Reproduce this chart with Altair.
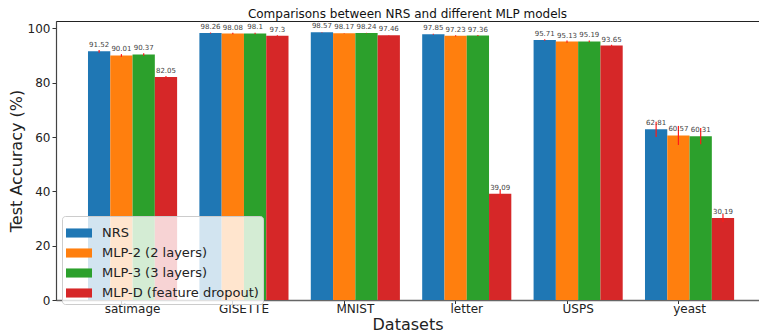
import altair as alt
import pandas as pd

datasets = ["satimage", "GISETTE", "MNIST", "letter", "USPS", "yeast"]
models = ["NRS", "MLP-2 (2 layers)", "MLP-3 (3 layers)", "MLP-D (feature dropout)"]
colors = ["#1f77b4", "#ff7f0e", "#2ca02c", "#d62728"]

acc_nrs = [91.52, 98.26, 98.57, 97.85, 95.71, 62.81]
acc_mlp2 = [90.01, 98.08, 98.17, 97.23, 95.13, 60.57]
acc_mlp3 = [90.37, 98.1, 98.24, 97.36, 95.19, 60.31]
acc_mlpd = [82.05, 97.3, 97.46, 39.09, 93.65, 30.19]

err_nrs = [0.5, 0.2, 0.1, 0.2, 0.3, 2.8]
err_mlp2 = [0.5, 0.3, 0.1, 0.2, 0.4, 3.5]
err_mlp3 = [0.5, 0.3, 0.1, 0.2, 0.3, 3.0]
err_mlpd = [0.4, 0.2, 0.1, 1.6, 0.3, 1.5]

rows = []
for m, accs, errs in zip(models, [acc_nrs, acc_mlp2, acc_mlp3, acc_mlpd],
                         [err_nrs, err_mlp2, err_mlp3, err_mlpd]):
    for d, a, e in zip(datasets, accs, errs):
        rows.append({"dataset": d, "model": m, "value": a, "err": e,
                     "label": str(a), "lo": a - e, "hi": a + e})
df = pd.DataFrame(rows)

FONT = "DejaVu Sans"

base = alt.Chart(df).encode(
    x=alt.X("dataset:N", sort=datasets,
            scale=alt.Scale(paddingInner=0.2, paddingOuter=0.2553, align=0.5624),
            axis=alt.Axis(bandPosition=0.375, labelAngle=0, title="Datasets",
                          labelFontSize=12, titleFontSize=16, titleFontWeight="normal",
                          tickSize=3.5, labelPadding=0, titlePadding=1.5,
                          domainColor="#666", domainWidth=1.5, tickColor="#333",
                          labelColor="#222", titleColor="#222")),
    xOffset=alt.XOffset("model:N", sort=models),
)

bars = base.mark_bar().encode(
    y=alt.Y("value:Q",
            scale=alt.Scale(domain=[0, 102.7], nice=False, zero=True),
            axis=alt.Axis(values=[0, 20, 40, 60, 80, 100], title="Test Accuracy (%)",
                          grid=False, labelFontSize=12, titleFontSize=16,
                          titleFontWeight="normal", tickSize=4, labelPadding=2,
                          titlePadding=3, domainColor="#444", domainWidth=1.2,
                          tickColor="#333", labelColor="#222", titleColor="#222")),
    color=alt.Color("model:N", sort=models,
                    scale=alt.Scale(domain=models, range=colors),
                    legend=alt.Legend(
                        title=None, orient="none", legendX=6, legendY=195,
                        labelFontSize=13, labelFont=FONT, labelColor="#222",
                        symbolType="M-1,-0.35L1,-0.35L1,0.35L-1,0.35Z",
                        symbolSize=676, symbolStrokeWidth=0, symbolOpacity=1,
                        fillColor="rgba(255,255,255,0.8)", strokeColor="#cccccc",
                        cornerRadius=3, padding=4, labelOffset=10, rowPadding=-3)),
)

errbars = base.mark_rule(color="#ff1a1a", strokeWidth=1.2).encode(
    y="lo:Q", y2="hi:Q"
)

labels = base.mark_text(dy=-3, fontSize=7, color="#444", baseline="bottom", font=FONT).encode(
    y="value:Q", text="label:N"
)

chart = alt.layer(bars, errbars, labels).properties(
    width=703, height=279,
    padding={"left": 0, "top": 0, "right": 0, "bottom": 0},
    title=alt.Title("Comparisons between NRS and different MLP models",
                    fontSize=12, fontWeight="normal", font=FONT, color="#111",
                    offset=0, anchor="middle", frame="group"),
).configure(font=FONT).configure_view(stroke="#222", strokeWidth=1)

chart.save("out.html", embed_options={"renderer": "svg", "actions": False})
